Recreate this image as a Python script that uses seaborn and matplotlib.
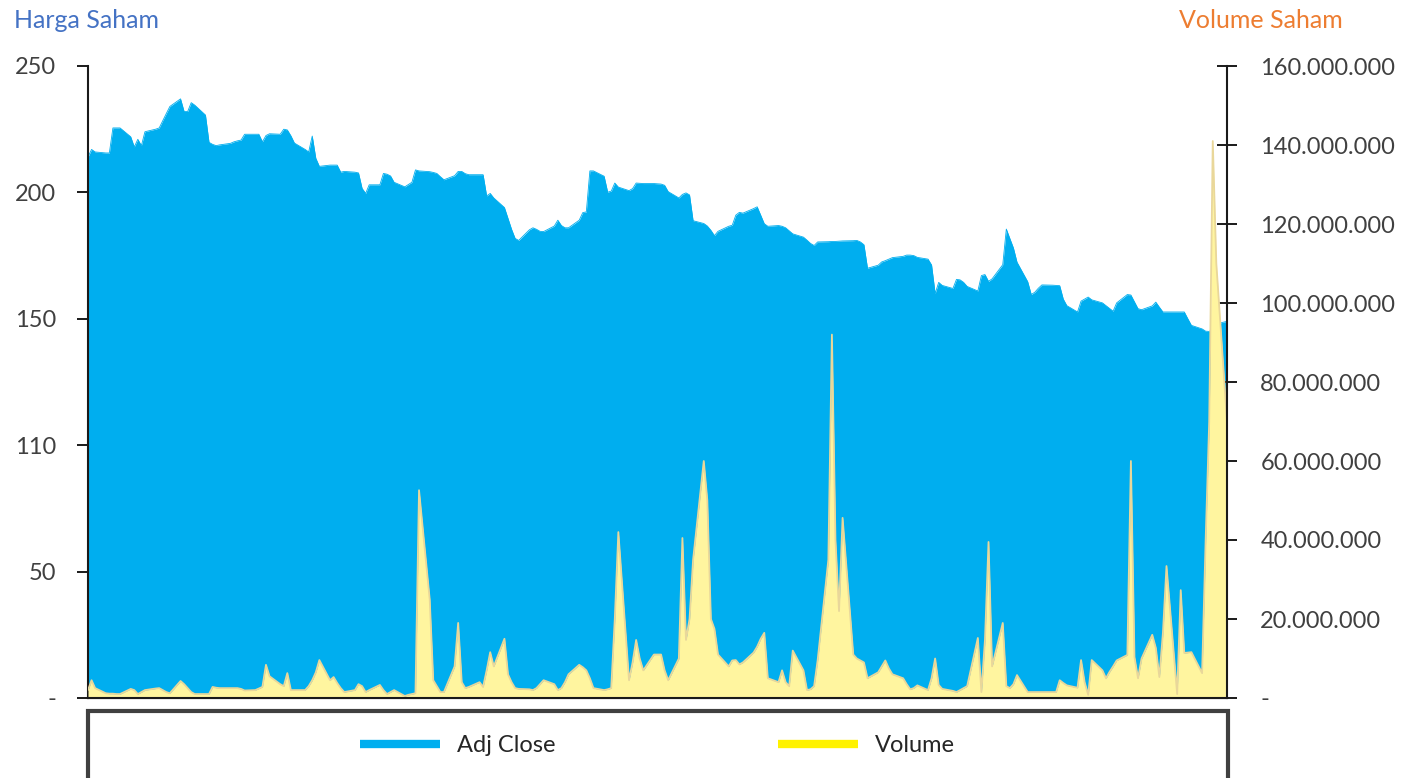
import numpy as np
import pandas as pd
import matplotlib
matplotlib.use('Agg')
import matplotlib.pyplot as plt
from matplotlib.lines import Line2D
from matplotlib.patches import Rectangle
import seaborn as sns

# harga penutupan (Adj Close)
adj_close = [
    214, 217, 216, 215.6, 215.6, 225.5, 225.5, 225.5, 222, 218,
    221, 218.5, 224, 225, 225.5, 228.4, 231.2, 234, 237, 232,
    232, 235.5, 234.5, 230.6, 219.8, 219, 218.5, 218.8, 219.4, 220,
    220.4, 220.7, 223, 223, 223, 220, 222.5, 223.2, 223, 225,
    224.7, 222.4, 219.5, 217, 216, 222.3, 213.5, 210.3, 210.8, 210.8,
    210.8, 208, 208.3, 208, 207.7, 201.6, 199.6, 203, 203, 207.5,
    207.2, 206.5, 204, 202.2, 203.1, 204, 208.9, 208.5, 208.2, 207.9,
    207.5, 206.2, 205, 206.6, 208.3, 208.3, 207.4, 207, 207, 207,
    198.6, 199.6, 197.8, 194, 189.7, 185.4, 181.8, 181, 185.2, 186,
    185.4, 184.6, 184.5, 186.7, 189, 186.9, 186, 186, 189, 192,
    192.3, 208.5, 208.5, 206.4, 200.1, 200.5, 203.7, 202.1, 200.7, 201.5,
    203.7, 203.6, 203.5, 203.5, 203.4, 203.3, 202.8, 200.3, 197.8, 199.2,
    199.8, 199, 188.8, 187.7, 186.7, 185, 182.9, 184.6, 186.6, 187,
    191, 192.1, 191.8, 193.6, 194.3, 191, 187.6, 186.6, 186.9, 186.6,
    186, 184.8, 183.6, 182.3, 181.1, 179.8, 179, 180.4, 180.5, 180.6,
    180.6, 180.7, 180.8, 180.9, 181, 180.4, 179.3, 170, 171.2, 172.5,
    173, 173.6, 174.2, 174.7, 175.2, 175.2, 175, 174.3, 173.6, 171.3,
    160, 164.4, 163.2, 162, 165.6, 165.4, 164.4, 162.8, 161, 167.1,
    167.5, 164.8, 165.8, 171.4, 185.5, 181.7, 178, 172.4, 164.7, 159.6,
    160.5, 162.1, 163.4, 163.3, 163.2, 163.1, 157.8, 155.2, 152.7, 157,
    157.8, 158.6, 157.5, 156.3, 155.2, 154.1, 153, 156.3, 159.6, 159.4,
    156.7, 154, 153.6, 155.1, 156.6, 154.6, 152.7, 152.7, 152.7, 152.7,
    152.7, 150, 147.4, 146, 145.1, 145, 146, 148, 149,
]

# volume dalam juta lembar
volume_juta = [
    2, 4.5, 2.5, 1.2, 1.1, 1.1, 1, 1, 2.3, 2,
    1, 1.5, 2, 2.4, 2.5, 2, 1.5, 1.2, 4.3, 3.5,
    2.5, 1.5, 1, 1, 1, 2.8, 2.6, 2.5, 2.5, 2.5,
    2.5, 2.3, 1.9, 2, 2.4, 2.8, 8.4, 5.5, 3.5, 3,
    6.3, 2, 2, 2, 3, 4.5, 6.5, 9.6, 4.5, 5.3,
    3.8, 2.5, 1.5, 2, 3.5, 3, 1.5, 2, 3.3, 2,
    1, 1.5, 2, 0.5, 0.8, 1, 1.2, 52.6, 25, 4.5,
    3, 1.5, 1.5, 8, 19, 4, 2.5, 2.8, 4, 2.8,
    7, 11.6, 8, 15, 6, 4, 2.5, 2.3, 2.2, 2,
    2.5, 3.5, 4.5, 3.5, 2, 2.5, 4, 6, 8.4, 7.8,
    7, 5, 2.5, 2, 2.2, 2.5, 20, 42, 4.5, 9,
    14.7, 10, 7, 11, 11, 11, 7, 4.5, 10, 40.5,
    14.7, 20, 35, 60, 50, 20, 17.5, 11, 8, 9.5,
    9.6, 8.5, 9, 11.5, 13, 15, 16.5, 5, 4, 7,
    4, 3, 12, 7, 2, 2.2, 3, 9.6, 35, 92,
    40, 22, 45.6, 11, 10, 9.5, 9, 5, 6.5, 8,
    9.5, 7.5, 6, 5, 3.5, 2.2, 2.5, 3.2, 2, 5,
    10, 3.3, 2.3, 1.8, 1.5, 2, 2.5, 3, 15.2, 1.5,
    14.7, 39.5, 8, 19, 3, 2.5, 3.5, 5.8, 1.5, 1.5,
    1.5, 1.5, 1.5, 1.5, 1.5, 4.5, 3.8, 3.2, 2.6, 9.6,
    4, 0.8, 9.6, 7, 5, 6.6, 8, 9.5, 10.9, 60,
    10.4, 5, 10, 16, 12.7, 5.3, 16.5, 33.4, 1, 27.3,
    11.4, 11.5, 11.6, 6.3, 40, 70, 141, 110, 70,
]

harga_ticks = [0, 50, 100, 150, 200, 250]
harga_labels = ['-', '50', '110', '150', '200', '250']
volume_ticks = [0, 20e6, 40e6, 60e6, 80e6, 100e6, 120e6, 140e6, 160e6]
volume_labels = ['-'] + [f'{int(v):,}'.replace(',', '.') for v in volume_ticks[1:]]

tanggal = pd.bdate_range('2019-01-02', periods=len(adj_close))
df = pd.DataFrame({'Date': tanggal,
                   'Adj Close': adj_close,
                   'Volume': np.array(volume_juta) * 1e6})

biru = '#00AEEF'
kuning = '#FFF59F'
tepi = '#E9D79A'
teks = '#404040'

sns.set_theme(style='ticks')
plt.rcParams['font.family'] = ['Lato', 'DejaVu Sans']

fig = plt.figure(figsize=(14.2, 7.78), dpi=100)
ax = fig.add_axes([88 / 1420, 80 / 778, (1227 - 88) / 1420, (698 - 66) / 778])

ax.fill_between(df['Date'], df['Adj Close'], color=biru, lw=0)
sns.lineplot(data=df, x='Date', y='Adj Close', ax=ax, color=biru, lw=0.6)

ax2 = ax.twinx()
ax2.fill_between(df['Date'], df['Volume'], color=kuning, lw=0)
sns.lineplot(data=df, x='Date', y='Volume', ax=ax2, color=tepi, lw=1.3)

ax.set_xlim(df['Date'].iloc[0], df['Date'].iloc[-1])
ax.set_ylim(0, 250)
ax2.set_ylim(0, 160e6)

ax.set_xticks([])
ax.set_yticks(harga_ticks, labels=harga_labels)
ax2.set_yticks(volume_ticks, labels=volume_labels)
for a in (ax, ax2):
    a.set_xlabel('')
    a.set_ylabel('')
    for s in a.spines.values():
        s.set_color('#1a1a1a')
        s.set_linewidth(1.5)
    a.spines['top'].set_visible(False)
ax.spines['right'].set_visible(False)
ax2.spines['left'].set_visible(False)

ax.tick_params(axis='y', left=True, direction='out', length=8, width=1.4,
               pad=15, labelsize=17, labelcolor=teks, color='#1a1a1a')
ax2.tick_params(axis='y', right=True, direction='inout', length=14, width=1.4,
                pad=17, labelsize=17, labelcolor=teks, color='#1a1a1a')

fig.text(14 / 1420, 1 - 20 / 778, 'Harga Saham', color='#4472C4',
         fontsize=18, ha='left', va='center')
fig.text(1343 / 1420, 1 - 20 / 778, 'Volume Saham', color='#ED7D31',
         fontsize=18, ha='right', va='center')

handles = [Line2D([], [], color=biru, lw=6, solid_capstyle='butt'),
           Line2D([], [], color='#FFF200', lw=6, solid_capstyle='butt')]
fig.legend(handles, ['Adj Close', 'Volume'], loc='center',
           bbox_to_anchor=(657.5 / 1420, 1 - 746 / 778), ncol=2, frameon=False,
           handlelength=3.4, handletextpad=0.72, columnspacing=9.4, fontsize=17)
fig.patches.append(Rectangle((88 / 1420, -0.1), (1228 - 88) / 1420, 0.1 + 67 / 778,
                             transform=fig.transFigure, fill=False,
                             ec='#404040', lw=3, clip_on=False))

fig.savefig('out.png', dpi=100)
